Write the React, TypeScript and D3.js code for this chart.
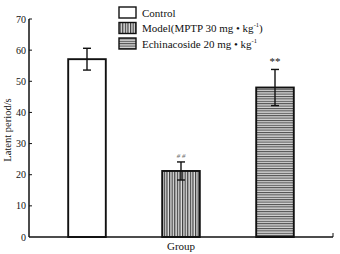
import React from "react";
import * as d3 from "d3";

const groups = ["Control", "Model", "Echinacoside"];
const means = [57.1, 21.2, 48.0];
const errors = [3.5, 2.9, 5.8];
const marks = ["", "# #", "**"];
const legendMain = ["Control", "Model(MPTP 30 mg • kg", "Echinacoside 20 mg • kg"];
const legendSup = ["", "-1", "-1"];
const legendTail = ["", ")", ""];
const yTicks = [0, 10, 20, 30, 40, 50, 60, 70];
const fills = ["#ffffff", "url(#vstripe)", "url(#hstripe)"];

const W = 340, H = 254;
const x0 = 29, x1 = 333, yBase = 237, yTop = 19;

export default function App() {
  const y = d3.scaleLinear().domain([0, 70]).range([yBase, yTop]);
  const x = d3.scaleBand<string>().domain(groups).range([x0, x1]).paddingInner(0.6).paddingOuter(0.417);
  const font = "'Liberation Serif', 'Times New Roman', serif";
  return (
    <svg width={W} height={H} style={{ position: "absolute", left: 0, top: 0, background: "#fff" }} fontFamily={font}>
      <defs>
        <pattern id="vstripe" patternUnits="userSpaceOnUse" width={2.6} height={4}>
          <rect width={2.6} height={4} fill="#e0e0e0" />
          <rect x={0} width={1.2} height={4} fill="#3a3a3a" />
        </pattern>
        <pattern id="hstripe" patternUnits="userSpaceOnUse" width={4} height={2.4}>
          <rect width={4} height={2.4} fill="#d4d4d4" />
          <rect y={0} width={4} height={1} fill="#4a4a4a" />
        </pattern>
      </defs>
      <rect width={W} height={H} fill="#fff" />
      {groups.map((g, i) => {
        const bx = x(g)!;
        const bw = x.bandwidth();
        const cx = bx + bw / 2;
        const top = y(means[i] + errors[i]);
        const bot = y(means[i] - errors[i]);
        return (
          <g key={g}>
            <rect x={bx} y={y(means[i])} width={bw} height={yBase - y(means[i])} fill={fills[i]} stroke="#111" strokeWidth={1.9} />
            <line x1={cx} x2={cx} y1={top} y2={bot} stroke="#111" strokeWidth={1.4} />
            <line x1={cx - 4} x2={cx + 4} y1={top} y2={top} stroke="#111" strokeWidth={1.4} />
            <line x1={cx - 4} x2={cx + 4} y1={bot} y2={bot} stroke="#111" strokeWidth={1.4} />
            {marks[i] && (
              <text x={cx} y={top - 4} textAnchor="middle" fontSize={i === 1 ? 7 : 11} fontStyle={i === 1 ? "italic" : "normal"} fill={i === 1 ? "#666" : "#111"}>
                {marks[i]}
              </text>
            )}
          </g>
        );
      })}
      <line x1={x0} x2={x0} y1={yTop} y2={yBase} stroke="#111" strokeWidth={1.5} />
      <line x1={x0} x2={x1} y1={yBase} y2={yBase} stroke="#111" strokeWidth={1.5} />
      <line x1={x1} x2={x1} y1={yBase} y2={yBase - 4} stroke="#111" strokeWidth={1} />
      {yTicks.map((t) => (
        <g key={t}>
          {t > 0 && <line x1={x0} x2={x0 + 3} y1={y(t)} y2={y(t)} stroke="#111" strokeWidth={1} />}
          <text x={x0 - 3} y={y(t) + 3.5} textAnchor="end" fontSize={10} fill="#111">
            {t}
          </text>
        </g>
      ))}
      <text transform={`translate(11,${(yTop + yBase) / 2 + 2}) rotate(-90)`} textAnchor="middle" fontSize={10.5} fill="#111">
        Latent period/s
      </text>
      <text x={181} y={250} textAnchor="middle" fontSize={11} fill="#111">
        Group
      </text>
      {legendMain.map((l, i) => {
        const ly = 7 + i * 15.5;
        return (
          <g key={l}>
            <rect x={119} y={ly} width={17} height={11} fill={fills[i]} stroke="#111" strokeWidth={1.4} />
            <text x={142} y={ly + 9.5} fontSize={11} fill="#111">
              {l}
              {legendSup[i] && (
                <tspan dy={-5} fontSize={6.5}>{legendSup[i]}</tspan>
              )}
              {legendTail[i] && <tspan dy={5}>{legendTail[i]}</tspan>}
            </text>
          </g>
        );
      })}
    </svg>
  );
}
